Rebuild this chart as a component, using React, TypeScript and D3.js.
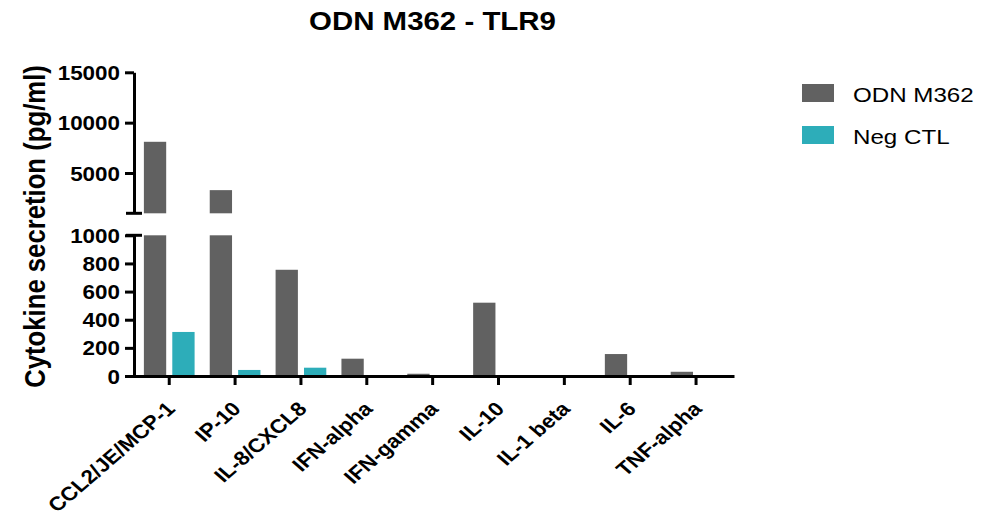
import React, { useEffect, useRef } from "react";
import * as d3 from "d3";

const categories = [
  "CCL2/JE/MCP-1",
  "IP-10",
  "IL-8/CXCL8",
  "IFN-alpha",
  "IFN-gamma",
  "IL-10",
  "IL-1 beta",
  "IL-6",
  "TNF-alpha",
];
const seriesNames = ["ODN M362", "Neg CTL"];
const odnM362 = [8100, 3300, 755, 123, 16, 521, 7, 156, 30];
const negCtl = [313, 43, 59, 0, 0, 0, 0, 0, 0];
const lowTicks = [0, 200, 400, 600, 800, 1000];
const highTicks = [5000, 10000, 15000];
const colors = ["#616161", "#2dadb9"];

const FONT = "'Liberation Sans', Arial, Helvetica, sans-serif";
const SX = 1.15; // the source picture is stretched sideways a little

export default function App() {
  const xAxisRef = useRef<SVGGElement>(null);
  const lowAxisRef = useRef<SVGGElement>(null);
  const highAxisRef = useRef<SVGGElement>(null);

  const axisX = 134;
  const baseY = 376;

  const x0 = d3
    .scaleBand<string>()
    .domain(categories)
    .range([125, 734])
    .paddingInner(0.23)
    .paddingOuter(0.239)
    .align(0.6);
  const x1 = d3
    .scaleBand<string>()
    .domain(seriesNames)
    .range([0, x0.bandwidth()])
    .paddingInner(0.215);

  const yLow = d3.scaleLinear().domain([0, 1000]).range([baseY, 235.3]);
  const yHigh = d3.scaleLinear().domain([1000, 15000]).range([213.3, 72.3]);

  const series = [odnM362, negCtl];

  useEffect(() => {
    const styleAxis = (g: d3.Selection<SVGGElement, unknown, null, undefined>) => {
      g.select(".domain").attr("stroke", "#000").attr("stroke-width", 3);
      g.selectAll(".tick line").attr("stroke", "#000").attr("stroke-width", 3);
      g.selectAll(".tick text")
        .attr("fill", "#000")
        .attr("font-family", FONT)
        .attr("font-weight", "bold")
        .attr("font-size", 19.5);
    };

    const xg = d3.select(xAxisRef.current!);
    xg.selectAll("*").remove();
    xg.call(d3.axisBottom(x0).tickSize(9).tickSizeOuter(0));
    styleAxis(xg);
    xg.selectAll<SVGTextElement, string>(".tick text")
      .attr("x", null)
      .attr("y", null)
      .attr("dy", null)
      .attr("text-anchor", "end")
      .attr("transform", `translate(7,34) scale(${SX},1) rotate(-45)`);

    const lg = d3.select(lowAxisRef.current!);
    lg.selectAll("*").remove();
    lg.call(d3.axisLeft(yLow).tickValues(lowTicks).tickSize(9).tickSizeOuter(0).tickFormat(d3.format("d")));
    styleAxis(lg);
    lg.selectAll(".tick text")
      .attr("x", null)
      .attr("dy", null)
      .attr("text-anchor", "end")
      .attr("transform", `translate(-14,7) scale(${SX},1)`);

    const hg = d3.select(highAxisRef.current!);
    hg.selectAll("*").remove();
    hg.call(d3.axisLeft(yHigh).tickValues(highTicks).tickSize(9).tickSizeOuter(0).tickFormat(d3.format("d")));
    styleAxis(hg);
    hg.selectAll(".tick text")
      .attr("x", null)
      .attr("dy", null)
      .attr("text-anchor", "end")
      .attr("transform", `translate(-14,7) scale(${SX},1)`);
  }, []);

  return (
    <div style={{ position: "absolute", left: 0, top: 0 }}>
      <svg width={1005} height={530} style={{ display: "block", background: "#fff" }}>
        <text
          transform={`translate(432.5,30) scale(${SX},1)`}
          textAnchor="middle"
          fontFamily={FONT}
          fontWeight="bold"
          fontSize={25.6}
        >
          ODN M362 - TLR9
        </text>

        <text
          transform={`translate(45,226.5) scale(${SX},1) rotate(-90)`}
          textAnchor="middle"
          fontFamily={FONT}
          fontWeight="bold"
          fontSize={25.7}
        >
          Cytokine secretion (pg/ml)
        </text>

        {/* bars, lower segment capped at 1000, upper segment above the break */}
        {categories.map((c, i) => (
          <g key={c} transform={`translate(${x0(c)},0)`}>
            {series.map((vals, s) => {
              const v = vals[i];
              const bx = x1(seriesNames[s])!;
              const bw = x1.bandwidth();
              const low = Math.min(v, 1000);
              return (
                <g key={s} fill={colors[s]}>
                  {v > 0 && (
                    <rect x={bx} width={bw} y={yLow(low)} height={yLow(0) - yLow(low)} />
                  )}
                  {v > 1000 && (
                    <rect x={bx} width={bw} y={yHigh(v)} height={yHigh(1000) - yHigh(v)} />
                  )}
                </g>
              );
            })}
          </g>
        ))}

        <g ref={xAxisRef} transform={`translate(0,${baseY})`} />
        <g ref={lowAxisRef} transform={`translate(${axisX},0)`} />
        <g ref={highAxisRef} transform={`translate(${axisX},0)`} />

        {/* break caps */}
        <g stroke="#000" strokeWidth={3}>
          <line x1={axisX - 8} x2={axisX + 8} y1={yHigh(1000)} y2={yHigh(1000)} />
          <line x1={axisX - 8} x2={axisX + 8} y1={yLow(1000)} y2={yLow(1000)} />
        </g>

        {/* legend */}
        {seriesNames.map((name, s) => (
          <g key={name} transform={`translate(802,${84 + s * 42})`}>
            <rect width={32} height={18} fill={colors[s]} />
            <text
              transform={`translate(51,17.5) scale(${SX},1)`}
              fontFamily={FONT}
              fontSize={21}
            >
              {name}
            </text>
          </g>
        ))}
      </svg>
    </div>
  );
}
